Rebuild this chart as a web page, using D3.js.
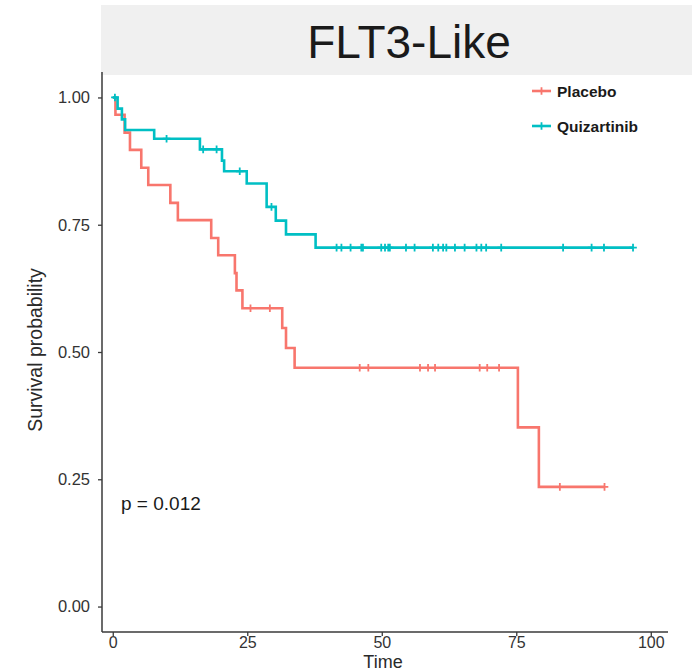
<!DOCTYPE html>
<html>
<head>
<meta charset="utf-8">
<script src="https://cdn.jsdelivr.net/npm/d3@7"></script>
<style>
  html, body { margin: 0; padding: 0; background: #ffffff; }
  svg { display: block; }
  text { font-family: "Liberation Sans", Arial, Helvetica, sans-serif; }
</style>
</head>
<body>
<svg id="chart" width="692" height="672"></svg>
<script>
// Kaplan–Meier step values (time in months, survival probability)
const placeboTimes = [0.5, 2.2, 3.2, 5.3, 6.6, 10.7, 12.1, 18.3, 19.6, 22.7, 23.0, 24.1, 31.5, 32.2, 33.8, 75.3, 79.2];
const placeboSurv  = [0.966, 0.931, 0.897, 0.862, 0.828, 0.793, 0.759, 0.724, 0.690, 0.655, 0.621, 0.586, 0.547, 0.508, 0.469, 0.352, 0.235];
const placeboCensorTimes = [25.6, 29.2, 45.9, 47.5, 57.1, 58.6, 59.9, 68.2, 69.6, 71.8, 83.1, 91.4];

const quizTimes = [0.9, 1.7, 2.3, 7.7, 16.2, 20.3, 20.7, 24.9, 28.6, 30.3, 32.2, 37.7];
const quizSurv  = [0.978, 0.957, 0.936, 0.919, 0.898, 0.876, 0.855, 0.831, 0.785, 0.758, 0.731, 0.705];
const quizCensorTimes = [0.4, 10.0, 16.8, 19.3, 23.6, 29.5, 41.6, 42.5, 44.2, 46.2, 46.5, 49.9, 50.6, 51.2, 51.5,
  54.5, 56.1, 59.5, 60.5, 61.4, 62.0, 63.6, 65.4, 67.6, 68.5, 69.4, 72.2, 83.7, 89.0, 91.3, 96.7];

const groupNames = ["Placebo", "Quizartinib"];
const groupColors = ["#F8766D", "#00BFC4"];
const xTicks = [0, 25, 50, 75, 100];
const yTicks = [0, 0.25, 0.5, 0.75, 1];
const titleText = "FLT3-Like";
const pValueText = "p = 0.012";

const svg = d3.select("#chart");

// panel geometry
const panel = { left: 102, right: 668, top: 72, bottom: 632 };
const x = d3.scaleLinear().domain([-2.0, 103.2]).range([panel.left, panel.right]);
const y = d3.scaleLinear().domain([-0.05, 1.05]).range([panel.bottom, panel.top]);

// title banner
svg.append("rect")
  .attr("x", 101).attr("y", 5).attr("width", 591).attr("height", 70)
  .attr("fill", "#f0f0f0");
svg.append("text")
  .attr("x", 409).attr("y", 58)
  .attr("text-anchor", "middle")
  .attr("font-size", 46)
  .attr("fill", "#1a1a1a")
  .text(titleText);

// survival value at time t, from a step series
function survAt(times, surv, t) {
  let s = 1;
  for (let i = 0; i < times.length; i++) if (times[i] <= t) s = surv[i];
  return s;
}

function buildSeries(times, surv, censors) {
  const pts = [[0, 1]];
  times.forEach((t, i) => pts.push([t, surv[i]]));
  const end = d3.max(censors.concat(times));
  pts.push([end, survAt(times, surv, end)]);
  const marks = censors.map(t => [t, survAt(times, surv, t)]);
  return { pts, marks };
}

const series = [
  buildSeries(placeboTimes, placeboSurv, placeboCensorTimes),
  buildSeries(quizTimes, quizSurv, quizCensorTimes)
];

const line = d3.line()
  .x(d => x(d[0]))
  .y(d => y(d[1]))
  .curve(d3.curveStepAfter);

function plusPath(cx, cy, r) {
  return `M${cx - r},${cy}H${cx + r}M${cx},${cy - r}V${cy + r}`;
}

series.forEach((s, i) => {
  const g = svg.append("g");
  g.append("path")
    .attr("d", line(s.pts))
    .attr("fill", "none")
    .attr("stroke", groupColors[i])
    .attr("stroke-width", 2.6)
    .attr("stroke-linejoin", "miter");
  g.selectAll("path.cens")
    .data(s.marks)
    .join("path")
    .attr("class", "cens")
    .attr("d", d => plusPath(x(d[0]), y(d[1]), 3.8))
    .attr("stroke", groupColors[i])
    .attr("stroke-width", 1.8)
    .attr("fill", "none");
});

// axes
const axisColor = "#3a3a3a";
const xAxis = d3.axisBottom(x).tickValues(xTicks).tickSize(4).tickSizeOuter(0).tickFormat(d3.format("d"));
const yAxis = d3.axisLeft(y).tickValues(yTicks).tickSize(4).tickSizeOuter(0).tickFormat(d3.format(".2f"));

const gx = svg.append("g").attr("transform", `translate(0,${panel.bottom})`).call(xAxis);
const gy = svg.append("g").attr("transform", `translate(${panel.left},0)`).call(yAxis);

[gx, gy].forEach(g => {
  g.select(".domain").attr("stroke", axisColor).attr("stroke-width", 1.5);
  g.selectAll(".tick line").attr("stroke", axisColor).attr("stroke-width", 1.3);
  g.selectAll(".tick text")
    .attr("font-family", "Liberation Sans, Arial, sans-serif")
    .attr("font-size", 16)
    .attr("fill", "#333333");
});
gx.select(".domain").attr("d", `M${panel.left},0H${panel.right}`);
gy.select(".domain").attr("d", `M0,${panel.top}V${panel.bottom}`);
gx.selectAll(".tick text").attr("y", 4.5).attr("dy", "0.71em");
gy.selectAll(".tick text").attr("x", -12).attr("font-size", 16.5);

// axis titles
svg.append("text")
  .attr("x", 383).attr("y", 668)
  .attr("text-anchor", "middle")
  .attr("font-size", 18)
  .attr("fill", "#2a2a2a")
  .text("Time");
svg.append("text")
  .attr("transform", "translate(42,350) rotate(-90)")
  .attr("text-anchor", "middle")
  .attr("font-size", 19.5)
  .attr("fill", "#2a2a2a")
  .text("Survival probability");

// p-value annotation
svg.append("text")
  .attr("x", 121).attr("y", 510)
  .attr("font-size", 19)
  .attr("fill", "#1a1a1a")
  .text(pValueText);

// legend
const legendY = [91, 126];
groupNames.forEach((name, i) => {
  const g = svg.append("g");
  g.append("line")
    .attr("x1", 532).attr("x2", 551)
    .attr("y1", legendY[i]).attr("y2", legendY[i])
    .attr("stroke", groupColors[i]).attr("stroke-width", 2.6);
  g.append("path")
    .attr("d", plusPath(541.5, legendY[i], 3.8))
    .attr("stroke", groupColors[i]).attr("stroke-width", 1.8);
  g.append("text")
    .attr("x", 557).attr("y", legendY[i] + 5.5)
    .attr("font-size", 15.5)
    .attr("font-weight", "bold")
    .attr("fill", "#1a1a1a")
    .text(name);
});
</script>
</body>
</html>
